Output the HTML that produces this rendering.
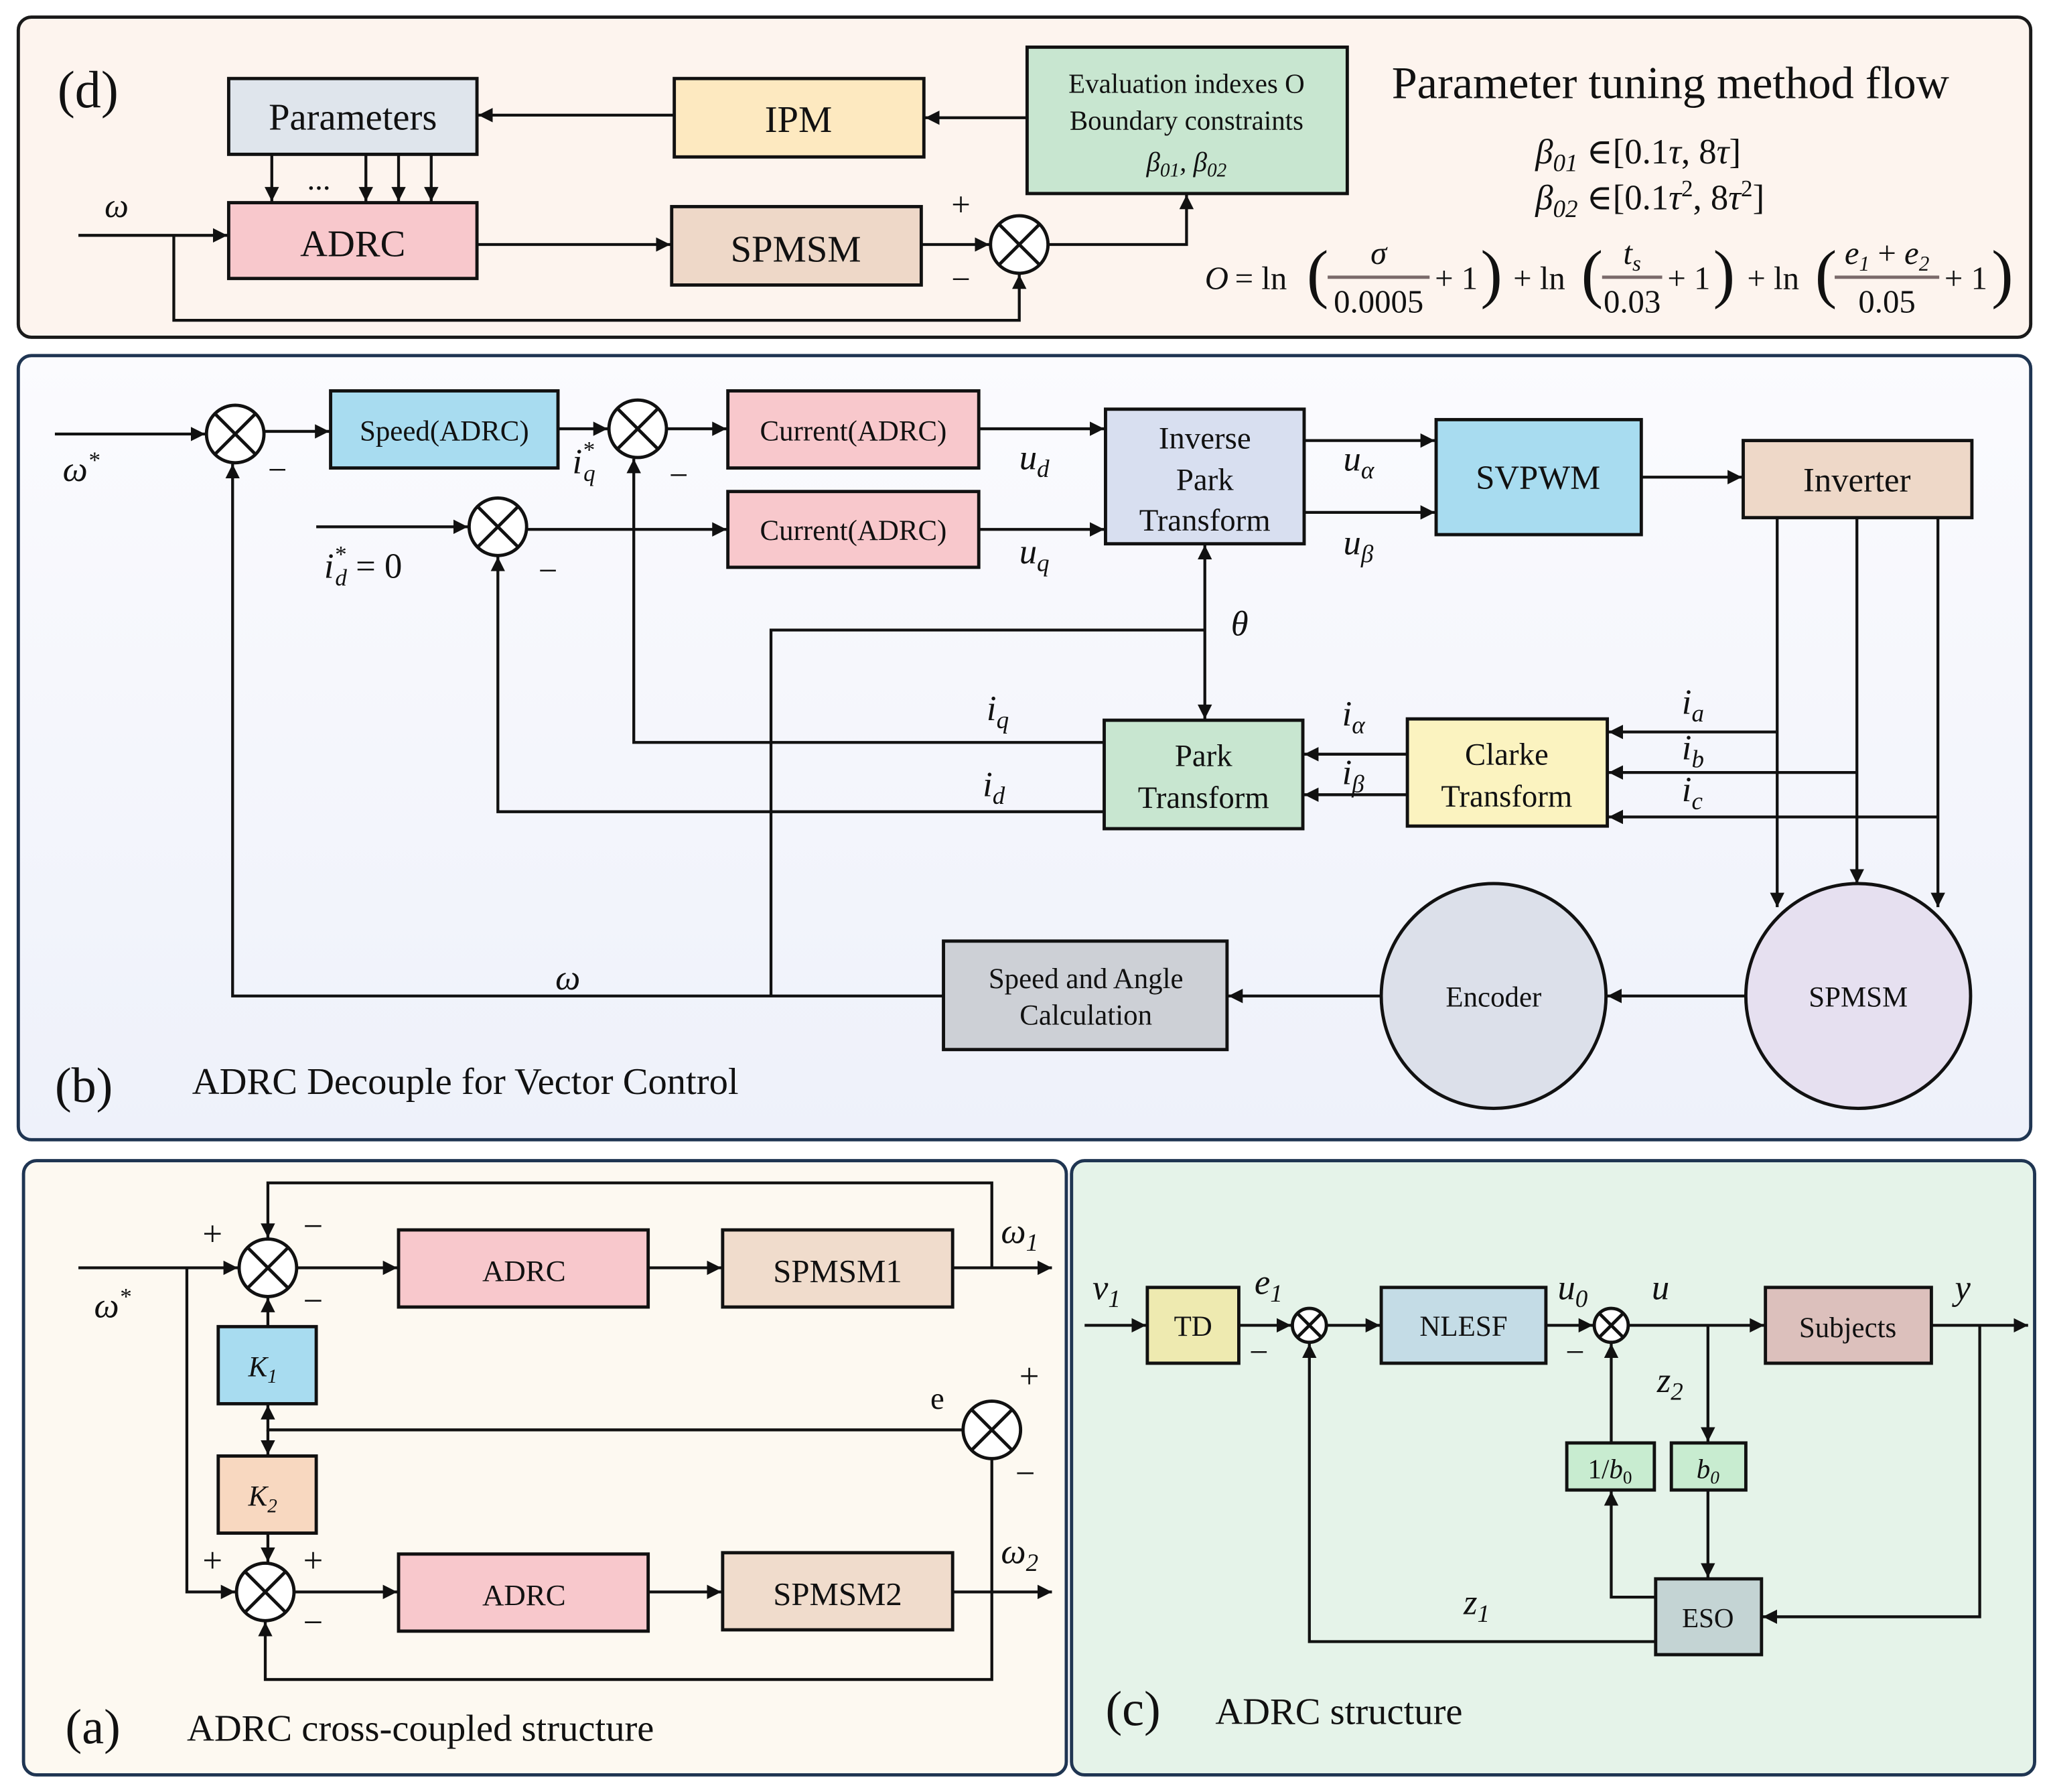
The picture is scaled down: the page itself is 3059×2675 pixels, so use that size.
<!DOCTYPE html>
<html><head><meta charset="utf-8"><style>
html,body{margin:0;padding:0;background:#fff}
svg{display:block}
text{font-family:"Liberation Serif","DejaVu Serif","Times New Roman",serif;fill:#111}
.m{font-style:italic}
</style></head><body>
<svg width="3059" height="2675" viewBox="0 0 1568 1371" xmlns="http://www.w3.org/2000/svg" font-family="Liberation Serif, DejaVu Serif, serif">
<defs>
<marker id="a" viewBox="0 0 10 10" refX="10" refY="5" markerWidth="5" markerHeight="5" orient="auto-start-reverse"><path d="M0,0L10,5L0,10z" fill="#111"/></marker>
<linearGradient id="gb" x1="0" y1="0" x2="0" y2="1"><stop offset="0" stop-color="#fbfbfe"/><stop offset="1" stop-color="#eef1fa"/></linearGradient>
</defs>
<g stroke="#111" stroke-width="2.5">
<rect x="14" y="13" width="1540" height="245" rx="10" fill="#fdf4ee" stroke="#1a1a1a"/>
<rect x="14" y="272" width="1540" height="600" rx="10" fill="url(#gb)" stroke="#1f3552"/>
<rect x="18" y="888" width="798" height="470" rx="10" fill="#fdf9f1" stroke="#1f3552"/>
<rect x="820" y="888" width="737" height="470" rx="10" fill="#e5f3e9" stroke="#1f3552"/>
</g>

<!-- Panel d -->
<g stroke="#111" stroke-width="2.5">
<rect x="175" y="60" width="190" height="58" fill="#dfe5ec"/>
<rect x="516" y="60" width="191" height="60" fill="#fde9c0"/>
<rect x="786" y="36" width="245" height="112" fill="#c8e6d0"/>
<rect x="175" y="155" width="190" height="58" fill="#f8c8cc"/>
<rect x="514" y="158" width="191" height="60" fill="#eed8c8"/>
<circle cx="780" cy="187" r="22" fill="#fff"/>
<path d="M764,171L796,203M796,171L764,203" fill="none"/>
</g>
<g stroke="#111" stroke-width="2.2" fill="none" marker-end="url(#a)">
<path d="M786,90H708"/><path d="M516,88H366"/>
<path d="M208,118V154"/><path d="M280,118V154"/><path d="M305,118V154"/><path d="M330,118V154"/>
<path d="M60,180H174"/><path d="M133,180V245H780V210"/>
<path d="M365,187H513"/><path d="M705,187H757"/>
<path d="M802,187H908V149"/>
</g>
<text x="44" y="82" font-size="40">(d)</text>
<text x="270" y="99" font-size="29" text-anchor="middle">Parameters</text>
<text x="611" y="101" font-size="29" text-anchor="middle">IPM</text>
<text x="908" y="71" font-size="21" text-anchor="middle">Evaluation indexes O</text>
<text x="908" y="99" font-size="21" text-anchor="middle">Boundary constraints</text>
<text x="908" y="131" font-size="21" text-anchor="middle" class="m">β<tspan font-size="15" dy="4">01</tspan><tspan dy="-4">, β</tspan><tspan font-size="15" dy="4">02</tspan></text>
<text x="270" y="196" font-size="29" text-anchor="middle">ADRC</text>
<text x="609" y="200" font-size="29" text-anchor="middle">SPMSM</text>
<text x="244" y="145" font-size="24" text-anchor="middle">...</text>
<text x="80" y="166" font-size="26" class="m">ω</text>
<text x="728" y="165" font-size="26">+</text>
<text x="728" y="222" font-size="26">−</text>
<text x="1065" y="75" font-size="35">Parameter tuning method flow</text>
<text x="1175" y="125" font-size="27" class="m">β<tspan font-size="19" dy="6">01</tspan><tspan dy="-6" font-style="normal"> ∈[0.1</tspan>τ<tspan font-style="normal">, 8</tspan>τ<tspan font-style="normal">]</tspan></text>
<text x="1175" y="160" font-size="27" class="m">β<tspan font-size="19" dy="6">02</tspan><tspan dy="-6" font-style="normal"> ∈[0.1</tspan>τ<tspan font-size="18" dy="-10" font-style="normal">2</tspan><tspan dy="10" font-style="normal">, 8</tspan>τ<tspan font-size="18" dy="-10" font-style="normal">2</tspan><tspan dy="10" font-style="normal">]</tspan></text>
<g font-size="25">
<text x="922" y="221" class="m">O</text><text x="945" y="221">= ln</text>
<text x="1000" y="226" font-size="50">(</text>
<text x="1055" y="202" class="m" text-anchor="middle">σ</text>
<line x1="1016" y1="212" x2="1094" y2="212" stroke="#7a6a6a" stroke-width="2.5"/>
<text x="1055" y="239" text-anchor="middle">0.0005</text>
<text x="1098" y="221">+ 1</text><text x="1133" y="226" font-size="50">)</text>
<text x="1158" y="221">+ ln</text>
<text x="1210" y="226" font-size="50">(</text>
<text x="1249" y="202" class="m" text-anchor="middle">t<tspan font-size="17" dy="5">s</tspan></text>
<line x1="1226" y1="212" x2="1272" y2="212" stroke="#7a6a6a" stroke-width="2.5"/>
<text x="1249" y="239" text-anchor="middle">0.03</text>
<text x="1276" y="221">+ 1</text><text x="1311" y="226" font-size="50">)</text>
<text x="1337" y="221">+ ln</text>
<text x="1389" y="226" font-size="50">(</text>
<text x="1444" y="202" class="m" text-anchor="middle">e<tspan font-size="16" dy="5">1</tspan><tspan dy="-5" font-style="normal"> + </tspan>e<tspan font-size="16" dy="5">2</tspan></text>
<line x1="1404" y1="212" x2="1484" y2="212" stroke="#7a6a6a" stroke-width="2.5"/>
<text x="1444" y="239" text-anchor="middle">0.05</text>
<text x="1488" y="221">+ 1</text><text x="1524" y="226" font-size="50">)</text>
</g>

<!-- Panel b -->
<g stroke="#111" stroke-width="2.5">
<rect x="253" y="299" width="174" height="59" fill="#a8dcf0"/>
<rect x="557" y="299" width="192" height="59" fill="#f8c8cc"/>
<rect x="557" y="376" width="192" height="58" fill="#f8c8cc"/>
<rect x="846" y="313" width="152" height="103" fill="#d8dff0"/>
<rect x="1099" y="321" width="157" height="88" fill="#a8dcf0"/>
<rect x="1334" y="337" width="175" height="59" fill="#eed8c8"/>
<rect x="845" y="551" width="152" height="83" fill="#c8e6d0"/>
<rect x="1077" y="550" width="153" height="82" fill="#fbf3c0"/>
<rect x="722" y="720" width="217" height="83" fill="#cdd0d6"/>
<circle cx="1143" cy="762" r="86" fill="#dce0ea"/>
<circle cx="1422" cy="762" r="86" fill="#e6e0f0"/>
<circle cx="180" cy="332" r="22" fill="#fff"/><path d="M164,316L196,348M196,316L164,348" fill="none"/>
<circle cx="488" cy="328" r="22" fill="#fff"/><path d="M472,312L504,344M504,312L472,344" fill="none"/>
<circle cx="381" cy="403" r="22" fill="#fff"/><path d="M365,387L397,419M397,387L365,419" fill="none"/>
</g>
<path d="M922,482H590V762" stroke="#111" stroke-width="2.2" fill="none"/>
<g stroke="#111" stroke-width="2.2" fill="none" marker-end="url(#a)">
<path d="M42,332H157"/><path d="M202,330H252"/><path d="M427,328H465"/><path d="M510,328H556"/>
<path d="M242,403H358"/><path d="M403,405H556"/>
<path d="M749,328H845"/><path d="M749,405H845"/>
<path d="M998,337H1098"/><path d="M998,392H1098"/><path d="M1256,365H1333"/>
<path d="M1360,396V694"/><path d="M1421,396V676"/><path d="M1483,396V694"/>
<path d="M1360,560H1231"/><path d="M1421,591H1231"/><path d="M1483,625H1231"/>
<path d="M1077,577H998"/><path d="M1077,608H998"/>
<path d="M845,568H485V351"/><path d="M845,621H381V426"/>
<path d="M922,482V550"/><path d="M922,482V417"/>
<path d="M722,762H178V355"/>
<path d="M1336,762H1230"/><path d="M1057,762H940"/>
</g>
<text x="340" y="337" font-size="22" text-anchor="middle">Speed(ADRC)</text>
<text x="653" y="337" font-size="22" text-anchor="middle">Current(ADRC)</text>
<text x="653" y="413" font-size="22" text-anchor="middle">Current(ADRC)</text>
<text x="922" y="343" font-size="24" text-anchor="middle">Inverse</text>
<text x="922" y="375" font-size="24" text-anchor="middle">Park</text>
<text x="922" y="406" font-size="24" text-anchor="middle">Transform</text>
<text x="1177" y="374" font-size="26" text-anchor="middle">SVPWM</text>
<text x="1421" y="376" font-size="26" text-anchor="middle">Inverter</text>
<text x="921" y="586" font-size="24" text-anchor="middle">Park</text>
<text x="921" y="618" font-size="24" text-anchor="middle">Transform</text>
<text x="1153" y="585" font-size="24" text-anchor="middle">Clarke</text>
<text x="1153" y="617" font-size="24" text-anchor="middle">Transform</text>
<text x="831" y="756" font-size="22" text-anchor="middle">Speed and Angle</text>
<text x="831" y="784" font-size="22" text-anchor="middle">Calculation</text>
<text x="1143" y="770" font-size="22" text-anchor="middle">Encoder</text>
<text x="1422" y="770" font-size="22" text-anchor="middle">SPMSM</text>
<g font-size="27" class="m">
<text x="48" y="368">ω<tspan font-size="18" dy="-10">*</tspan></text>
<text x="438" y="362">i<tspan font-size="18" dy="-12">*</tspan><tspan font-size="18" dx="-8" dy="18">q</tspan></text>
<text x="248" y="442">i<tspan font-size="18" dy="-12">*</tspan><tspan font-size="18" dx="-8" dy="18">d</tspan><tspan dy="-6" font-style="normal"> = 0</tspan></text>
<text x="780" y="359">u<tspan font-size="19" dy="6">d</tspan></text>
<text x="780" y="431">u<tspan font-size="19" dy="6">q</tspan></text>
<text x="1028" y="360">u<tspan font-size="19" dy="6">α</tspan></text>
<text x="1028" y="424">u<tspan font-size="19" dy="6">β</tspan></text>
<text x="942" y="486">θ</text>
<text x="755" y="551">i<tspan font-size="19" dy="6">q</tspan></text>
<text x="752" y="609">i<tspan font-size="19" dy="6">d</tspan></text>
<text x="1027" y="555">i<tspan font-size="19" dy="6">α</tspan></text>
<text x="1027" y="600">i<tspan font-size="19" dy="6">β</tspan></text>
<text x="1287" y="546">i<tspan font-size="19" dy="6">a</tspan></text>
<text x="1287" y="581">i<tspan font-size="19" dy="6">b</tspan></text>
<text x="1287" y="613">i<tspan font-size="19" dy="6">c</tspan></text>
<text x="425" y="757">ω</text>
</g>
<text x="205" y="368" font-size="26">−</text>
<text x="512" y="372" font-size="26">−</text>
<text x="412" y="445" font-size="26">−</text>
<text x="42" y="843" font-size="38">(b)</text>
<text x="147" y="837" font-size="29">ADRC Decouple for Vector Control</text>

<!-- Panel a -->
<g stroke="#111" stroke-width="2.5">
<rect x="305" y="941" width="191" height="59" fill="#f8c8cc"/>
<rect x="305" y="1189" width="191" height="59" fill="#f8c8cc"/>
<rect x="553" y="941" width="176" height="59" fill="#f0dccc"/>
<rect x="553" y="1188" width="176" height="59" fill="#f0dccc"/>
<rect x="167" y="1015" width="75" height="59" fill="#a8dcf0"/>
<rect x="167" y="1114" width="75" height="59" fill="#f8d8c0"/>
<circle cx="205" cy="970" r="22" fill="#fff"/><path d="M189,954L221,986M221,954L189,986" fill="none"/>
<circle cx="203" cy="1218" r="22" fill="#fff"/><path d="M187,1202L219,1234M219,1202L187,1234" fill="none"/>
<circle cx="759" cy="1094" r="22" fill="#fff"/><path d="M743,1078L775,1110M775,1078L743,1110" fill="none"/>
</g>
<g stroke="#111" stroke-width="2.2" fill="none" marker-end="url(#a)">
<path d="M60,970H182"/><path d="M143,970V1218H180"/>
<path d="M227,970H304"/><path d="M496,970H552"/><path d="M729,970H805"/>
<path d="M225,1218H304"/><path d="M496,1218H552"/><path d="M729,1218H805"/>
<path d="M759,970V905H205V947"/>
<path d="M759,1116V1285H203V1241"/>
<path d="M205,1015V993"/><path d="M205,1173V1195"/>
<path d="M737,1094H205V1075"/><path d="M205,1094V1113"/>
</g>
<text x="401" y="980" font-size="23" text-anchor="middle">ADRC</text>
<text x="401" y="1228" font-size="23" text-anchor="middle">ADRC</text>
<text x="641" y="981" font-size="25" text-anchor="middle">SPMSM1</text>
<text x="641" y="1228" font-size="25" text-anchor="middle">SPMSM2</text>
<text x="190" y="1053" font-size="22" class="m">K<tspan font-size="15" dy="5">1</tspan></text>
<text x="190" y="1152" font-size="22" class="m">K<tspan font-size="15" dy="5">2</tspan></text>
<g font-size="27">
<text x="155" y="953">+</text><text x="232" y="947">−</text><text x="232" y="1004">−</text>
<text x="155" y="1203">+</text><text x="232" y="1203">+</text><text x="232" y="1250">−</text>
<text x="780" y="1062">+</text><text x="777" y="1136">−</text>
</g>
<text x="712" y="1078" font-size="24">e</text>
<text x="72" y="1008" font-size="27" class="m">ω<tspan font-size="18" dy="-10">*</tspan></text>
<text x="766" y="951" font-size="27" class="m">ω<tspan font-size="19" dy="6">1</tspan></text>
<text x="766" y="1196" font-size="27" class="m">ω<tspan font-size="19" dy="6">2</tspan></text>
<text x="50" y="1334" font-size="38">(a)</text>
<text x="143" y="1332" font-size="29">ADRC cross-coupled structure</text>

<!-- Panel c -->
<g stroke="#111" stroke-width="2.5">
<rect x="878" y="985" width="70" height="58" fill="#eeeab0"/>
<rect x="1057" y="985" width="126" height="58" fill="#c4dce6"/>
<rect x="1351" y="985" width="127" height="58" fill="#dcc0bc"/>
<rect x="1199" y="1104" width="67" height="36" fill="#c8ecd0"/>
<rect x="1279" y="1104" width="57" height="36" fill="#c8ecd0"/>
<rect x="1267" y="1208" width="81" height="58" fill="#c4d4d4"/>
<circle cx="1002" cy="1014" r="13" fill="#fff"/><path d="M993,1005L1011,1023M1011,1005L993,1023" fill="none"/>
<circle cx="1233" cy="1014" r="13" fill="#fff"/><path d="M1224,1005L1242,1023M1242,1005L1224,1023" fill="none"/>
</g>
<g stroke="#111" stroke-width="2.2" fill="none" marker-end="url(#a)">
<path d="M830,1014H877"/><path d="M948,1014H988"/><path d="M1015,1014H1056"/>
<path d="M1183,1014H1219"/><path d="M1246,1014H1350"/><path d="M1478,1014H1552"/>
<path d="M1515,1014V1237H1349"/>
<path d="M1307,1014V1103"/><path d="M1307,1140V1207"/>
<path d="M1267,1222H1233V1141"/><path d="M1233,1104V1028"/>
<path d="M1267,1256H1002V1028"/>
</g>
<text x="913" y="1022" font-size="22" text-anchor="middle">TD</text>
<text x="1120" y="1022" font-size="22" text-anchor="middle">NLESF</text>
<text x="1414" y="1023" font-size="22" text-anchor="middle">Subjects</text>
<text x="1307" y="1245" font-size="21" text-anchor="middle">ESO</text>
<text x="1232" y="1131" font-size="21" text-anchor="middle">1/<tspan class="m">b</tspan><tspan font-size="14" dy="4">0</tspan></text>
<text x="1307" y="1131" font-size="21" text-anchor="middle" class="m">b<tspan font-size="14" dy="4">0</tspan></text>
<g font-size="27" class="m">
<text x="836" y="994">v<tspan font-size="19" dy="6">1</tspan></text>
<text x="960" y="990">e<tspan font-size="19" dy="6">1</tspan></text>
<text x="1192" y="994">u<tspan font-size="19" dy="6">0</tspan></text>
<text x="1264" y="994">u</text>
<text x="1496" y="994">y</text>
<text x="1268" y="1065">z<tspan font-size="19" dy="6">2</tspan></text>
<text x="1120" y="1235">z<tspan font-size="19" dy="6">1</tspan></text>
</g>
<text x="956" y="1043" font-size="26">−</text>
<text x="1198" y="1043" font-size="26">−</text>
<text x="846" y="1320" font-size="38">(c)</text>
<text x="930" y="1319" font-size="29">ADRC structure</text>
</svg>
</body></html>
